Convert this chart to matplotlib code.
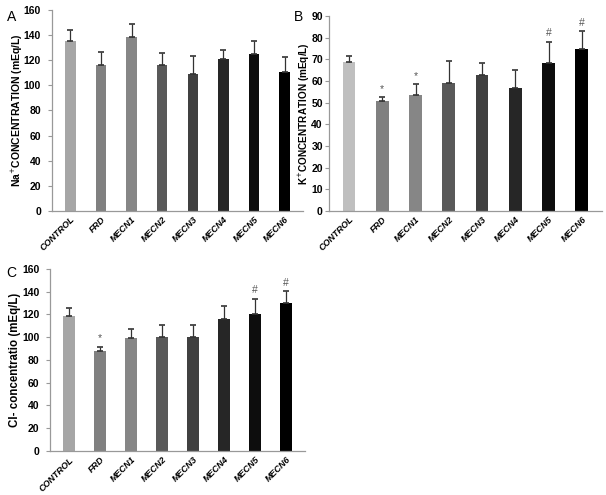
import numpy as np
import matplotlib
matplotlib.use('Agg')
import matplotlib.pyplot as plt

plt.rcParams['font.family'] = ['Liberation Sans Narrow', 'Liberation Sans', 'DejaVu Sans']

# 数据
groups = ['CONTROL', 'FRD', 'MECN1', 'MECN2', 'MECN3', 'MECN4', 'MECN5', 'MECN6']
na_mean = [135.5, 116.4, 138.5, 116.4, 109.0, 121.2, 124.9, 110.6]
na_err = [8.5, 10.4, 10.3, 9.3, 14.0, 6.6, 10.0, 12.0]
k_mean = [68.9, 50.5, 53.5, 58.9, 62.9, 56.9, 68.1, 74.7]
k_err = [2.5, 1.9, 5.1, 10.2, 5.2, 8.2, 10.0, 8.2]
k_marks = ['', '*', '*', '', '', '', '#', '#']
cl_mean = [118.1, 88.2, 99.0, 100.5, 100.5, 115.8, 120.7, 129.8]
cl_err = [7.6, 3.5, 8.5, 10.5, 9.7, 11.4, 12.9, 10.6]
cl_marks = ['', '*', '', '', '', '', '#', '#']

colors_a = ['#a6a6a6', '#808080', '#868686', '#595959', '#404040', '#262626', '#0d0d0d', '#000000']
colors_b = ['#bfbfbf'] + colors_a[1:]

fig = plt.figure(figsize=(6.06, 4.95), dpi=100)


def panel(rect, means, errs, colors, ymax, step, ylabel, ylab_size, ylab_x, width,
          marks=None, mark_off=2.0, ypad=5):
    ax = fig.add_axes(rect)
    x = np.arange(len(groups))
    ax.bar(x, means, width=width, color=colors, zorder=2)
    ax.errorbar(x, means, yerr=[np.zeros(len(errs)), errs], fmt='none',
                ecolor='#333333', elinewidth=0.9, capsize=2.2, capthick=1.2, zorder=3)
    if marks is not None:
        for xi, m, e, s in zip(x, means, errs, marks):
            if s:
                ax.text(xi, m + e + mark_off, s, ha='center', va='bottom',
                        fontsize=7.5, color='#555555')
    ax.set_xlim(-0.6, len(groups) - 0.4)
    ax.set_ylim(0, ymax)
    ax.set_yticks(np.arange(0, ymax + 1, step))
    ax.set_xticks(x)
    ax.set_xticklabels(groups, rotation=45, ha='right', rotation_mode='anchor',
                       fontsize=6.5, fontweight='bold', fontstyle='italic')
    for lab in ax.get_yticklabels():
        lab.set_fontsize(7.5)
        lab.set_fontweight('bold')
    ax.tick_params(axis='x', length=0, pad=3)
    ax.tick_params(axis='y', length=3, width=0.8, color='#999999', pad=ypad)
    for side in ['top', 'right']:
        ax.spines[side].set_visible(False)
    for side in ['left', 'bottom']:
        ax.spines[side].set_color('#999999')
        ax.spines[side].set_linewidth(0.9)
    ax.set_ylabel(ylabel, fontsize=ylab_size, fontweight='bold')
    ax.yaxis.set_label_coords(ylab_x, 0.5)
    return ax


panel([0.086, 0.574, 0.414, 0.406], na_mean, na_err, colors_a, 160, 20,
      'Na$^{+}$CONCENTRATION (mEq/L)', 7.5, -0.11, 0.34)
panel([0.543, 0.574, 0.45, 0.394], k_mean, k_err, colors_b, 90, 10,
      'K$^{+}$CONCENTRATION (mEq/L)', 7.2, -0.062, 0.38, marks=k_marks, mark_off=1.5, ypad=1.5)
panel([0.083, 0.089, 0.42, 0.368], cl_mean, cl_err, colors_a, 160, 20,
      'Cl- concentratio (mEq/L)', 8.3, -0.115, 0.4, marks=cl_marks, mark_off=3.0)

fig.text(0.012, 0.98, 'A', fontsize=10, va='top', family='Liberation Sans')
fig.text(0.485, 0.98, 'B', fontsize=10, va='top', family='Liberation Sans')
fig.text(0.01, 0.462, 'C', fontsize=10, va='top', family='Liberation Sans')

fig.savefig('out.png', dpi=100)
